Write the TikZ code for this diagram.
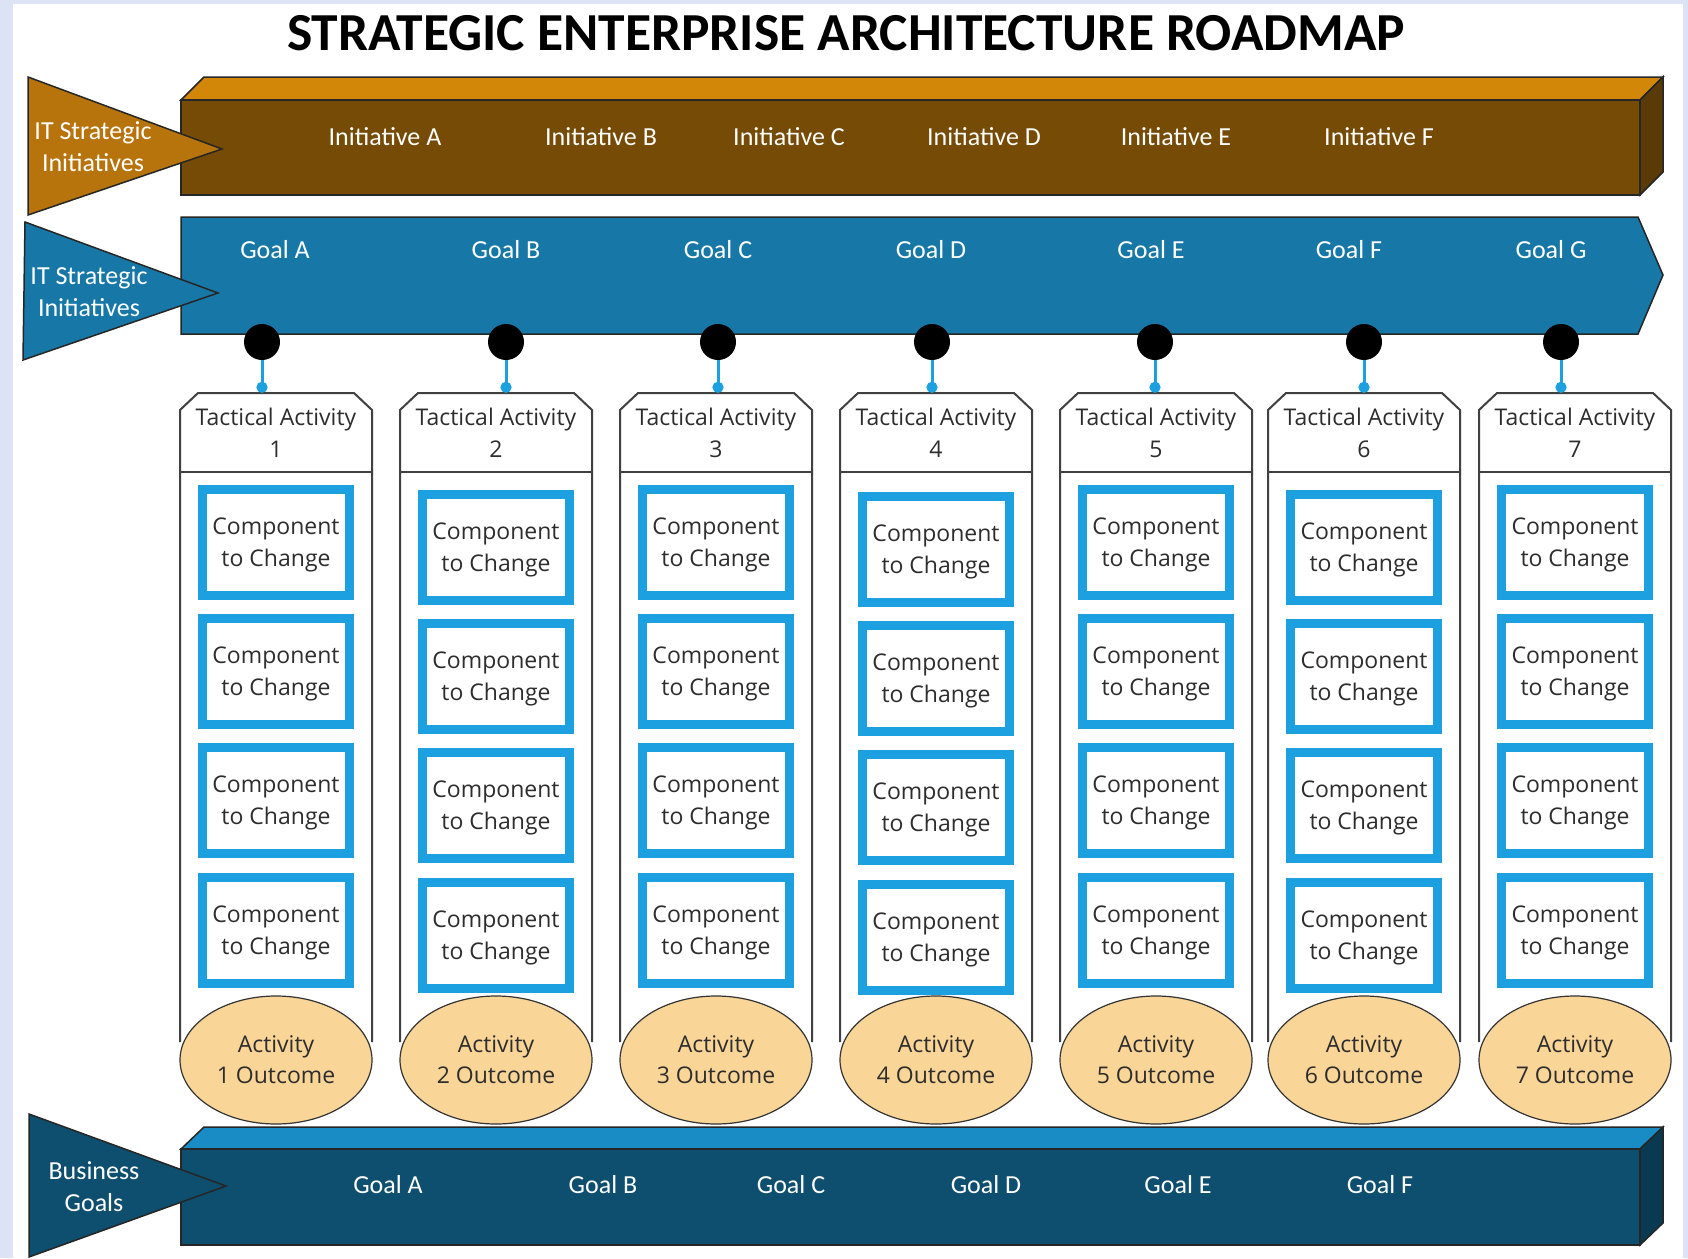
\documentclass[tikz,border=0pt]{standalone}
\usepackage{fontspec}
\setmainfont{Carlito}
\newfontfamily\colfont{Open Sans}
\usetikzlibrary{shapes.geometric,arrows.meta}

\definecolor{pagebg}{RGB}{219,227,244}
\definecolor{brownfront}{RGB}{117,75,5}
\definecolor{browntop}{RGB}{210,135,8}
\definecolor{brownside}{RGB}{90,58,6}
\definecolor{browntri}{RGB}{183,116,12}
\definecolor{goalblue}{RGB}{23,120,167}
\definecolor{busfront}{RGB}{14,79,111}
\definecolor{bustop}{RGB}{25,140,198}
\definecolor{busside}{RGB}{9,58,82}
\definecolor{compblue}{RGB}{28,160,224}
\definecolor{outfill}{RGB}{250,213,152}
\definecolor{textgray}{RGB}{45,45,45}

\tikzset{
  barline/.style={draw=black!85, line width=1.5pt},
  bartext/.style={text=white, font=\fontsize{26}{32}\selectfont, inner sep=0pt},
  tritext/.style={text=white, font=\fontsize{26}{32}\selectfont, align=center, inner sep=0pt},
  colline/.style={draw=black!75, line width=2pt},
  tacbox/.style={minimum width=192pt, minimum height=79pt, inner sep=0pt, align=center,
    text=textgray, font=\colfont\fontsize{23}{32}\selectfont},
  compbox/.style={draw=compblue, fill=white, line width=9pt, minimum width=147pt,
    minimum height=106pt, inner sep=0pt, align=center, text=textgray, text depth=-3pt,
    font=\colfont\fontsize{23}{32}\selectfont},
  outcome/.style={ellipse, draw=black!80, line width=1.2pt, fill=outfill, minimum width=192pt,
    minimum height=128pt, inner sep=0pt, align=center, text=textgray, text depth=-6pt,
    font=\colfont\fontsize{23}{31}\selectfont},
  goaldot/.style={circle, fill=black, minimum size=36pt, inner sep=0pt},
  link/.style={draw=compblue, line width=3pt, -{Circle[length=11pt]}},
}

\begin{document}
\begin{tikzpicture}[x=1pt,y=-1pt]
      \useasboundingbox (0,0) rectangle (1688,1258);
      \fill[pagebg] (0,0) rectangle (1688,1258);
      \fill[white] (13,4) rectangle (1683,1258);
      \node (title) at (846,33) {\fontsize{53.5}{60}\selectfont\bfseries STRATEGIC ENTERPRISE ARCHITECTURE ROADMAP};

      % IT strategic initiatives
      \filldraw[fill=browntop, barline] (181,100) -- (204,77) -- (1663,77) -- (1640,100) -- cycle;
      \filldraw[fill=brownside, barline] (1640,100) -- (1663,77) -- (1663,172) -- (1640,195) -- cycle;
      \filldraw[fill=brownfront, barline] (181,100) rectangle (1640,195);
      \filldraw[fill=browntri, barline] (28,77) -- (222,149) -- (28,215) -- cycle;
      \node[tritext] (inilab) at (93,147) {IT Strategic\\Initiatives};
      \foreach \i/\x in {A/385, B/601, C/789, D/984, E/1176, F/1379}
        \node[bartext] (ini\i) at (\x,137) {Initiative \i};

      % goals arrow
      \filldraw[fill=goalblue, barline] (181,217) -- (1638,217) -- (1663,275) -- (1638,334) -- (181,334) -- cycle;
      \filldraw[fill=goalblue, barline] (25,222) -- (218,293) -- (23,360) -- cycle;
      \node[tritext] (goallab) at (89,292) {IT Strategic\\Initiatives};
      \foreach \i/\x in {A/275, B/506, C/718, D/931, E/1151, F/1349, G/1551}
        \node[bartext] (itg\i) at (\x,250) {Goal \i};

      % business goals
      \filldraw[fill=bustop, barline] (181,1149) -- (204,1127) -- (1663,1127) -- (1640,1149) -- cycle;
      \filldraw[fill=busside, barline] (1640,1149) -- (1663,1127) -- (1663,1223) -- (1640,1245) -- cycle;
      \filldraw[fill=busfront, barline] (181,1149) rectangle (1640,1245);
      \filldraw[fill=busfront, barline] (29,1114) -- (226,1186) -- (29,1257) -- cycle;
      \node[tritext] (buslab) at (94,1187) {Business\\Goals};
      \foreach \i/\x in {A/388, B/603, C/791, D/986, E/1178, F/1380}
        \node[bartext] (bg\i) at (\x,1185) {Goal \i};

      % tactical activities
      \foreach \n/\cx/\dx/\dy in {1/276/262/0, 2/496/506/5, 3/716/718/0, 4/936/932/7,
                                 5/1156/1155/0, 6/1364/1364/5, 7/1575/1561/0} {
        \node[tacbox] (ta\n) at (\cx,432.5) {Tactical Activity\\\n};
        \draw[colline] (\cx-96,1042) -- (\cx-96,410) -- (\cx-78,393) -- (\cx+78,393)
                       -- (\cx+96,410) -- (\cx+96,1042);
        \draw[colline] (ta\n.south west) -- (ta\n.south east);
        \foreach \k/\y in {1/542, 2/671, 3/800, 4/930}
          \node[compbox] (c\n\k) at (\cx,\y+\dy) {Component\\to Change};
        \node[outcome] (out\n) at (\cx,1060) {Activity\\\n\ Outcome};
        \node[goaldot] (gd\n) at (\dx,342) {};
        \draw[link] (gd\n) -- (gd\n |- ta\n.north);
      }
\end{tikzpicture}
\end{document}
